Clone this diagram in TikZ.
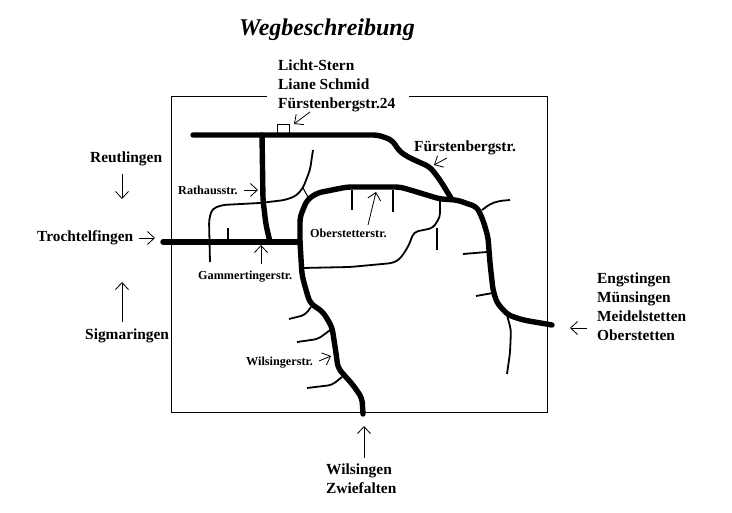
\documentclass[tikz,border=0pt]{standalone}
\usepackage{fontspec}
\setmainfont{Liberation Serif}
\usetikzlibrary{arrows.meta}
\tikzset{
  mainroad/.style={line width=5.4pt,line cap=round,line join=round,rounded corners=5pt},
  sideroad/.style={line width=2.4pt,line cap=butt,line join=round,rounded corners=3pt},
  thinroad/.style={line width=1.8pt,line cap=butt,line join=round,rounded corners=4pt},
  frameline/.style={line width=1pt},
  pointer/.style={line width=.8pt,-{Straight Barb[length=7pt,width=13pt,line width=.8pt]}},
  biglabel/.style={font=\fontsize{15.4}{19}\selectfont\bfseries,inner sep=0pt},
  citylabel/.style={font=\fontsize{15.4}{19}\selectfont\bfseries,inner sep=0pt,align=left},
  smalllabel/.style={font=\fontsize{12.2}{14}\selectfont\bfseries,inner sep=0pt}
}
\begin{document}
\begin{tikzpicture}[x=1pt,y=-1pt]
\useasboundingbox (0,0) rectangle (732,513);
% frame
\draw[frameline] (267,97) -- (171,97) -- (171,413) -- (547,413) -- (547,97) -- (409,97);
% building
\node[draw,line width=.9pt,minimum width=12pt,minimum height=10pt,inner sep=0pt,anchor=south] (house) at (283,135) {};
% side roads
\draw[thinroad] (210,262) -- (209,220) -- (212,209) -- (222,205) -- (260,203) -- (285,200) -- (296,196) -- (303,188) -- (310,170) -- (313,150);
\draw[line width=1pt] (303,188) -- (308,197);
\draw[sideroad] (228,228) -- (228,242);
\draw[sideroad] (352,190) -- (352,210);
\draw[sideroad] (393,190) -- (393,212);
\draw[thinroad] (302,268) -- (350,267) -- (393,263) -- (400,259) -- (408,247) -- (414,232) -- (433,228) -- (440,217) -- (440,200);
\draw[thinroad] (437,228) -- (437,250);
\draw[thinroad] (463,254) -- (487,252);
\draw[thinroad] (482,210) -- (490,204) -- (499,201) -- (510,200);
\draw[thinroad] (476,296) -- (493,293);
\draw[thinroad] (507,315) -- (511,330) -- (510,353) -- (507,374);
\draw[thinroad] (289,319) -- (305,315) -- (311,307);
\draw[thinroad] (297,342) -- (318,339) -- (333,328);
\draw[thinroad] (307,388) -- (332,385) -- (342,377);
% main roads
\draw[mainroad] (193,135) -- (378,135) -- (392,140) -- (400,152) -- (410,158) -- (430,167) -- (440,180) -- (451,198);
\draw[mainroad] (163,242) -- (300,242);
\draw[mainroad] (262,135) -- (263,200) -- (266,225) -- (270,242);
\draw[mainroad] (300,242) -- (300,217) -- (307,200) -- (317,193) -- (347,187) -- (400,187) -- (417,192) -- (440,199) -- (457,200) -- (477,207) -- (483,220) -- (488,237) -- (490,263) -- (493,290) -- (497,303) -- (508,315) -- (523,320) -- (552,325);
\draw[mainroad] (300,242) -- (302,275) -- (306,290) -- (310,303) -- (323,312) -- (332,327) -- (336,353) -- (338,368) -- (345,376) -- (353,385) -- (362,398) -- (363,414);
% labels
\node[inner sep=0pt,font=\fontsize{24}{28}\selectfont\bfseries\itshape] (title) at (327,30) {Wegbeschreibung};
\node[citylabel,anchor=north west] (dest) at (278,60) {Licht-Stern\\Liane Schmid\\Fürstenbergstr.24};
\node[biglabel,anchor=west] (fb) at (414,148) {Fürstenbergstr.};
\node[biglabel,anchor=west] (reut) at (90,159) {Reutlingen};
\node[biglabel,anchor=west] (tro) at (37,238) {Trochtelfingen};
\node[biglabel,anchor=west] (sig) at (85,336) {Sigmaringen};
\node[citylabel,anchor=north west] (eng) at (597,273) {Engstingen\\Münsingen\\Meidelstetten\\Oberstetten};
\node[citylabel,anchor=north west] (wil) at (326,464) {Wilsingen\\Zwiefalten};
\node[smalllabel,anchor=west] (rat) at (178,190) {Rathausstr.};
\node[smalllabel,anchor=west] (gam) at (198,277) {Gammertingerstr.};
\node[smalllabel,anchor=west] (obe) at (310,233) {Oberstetterstr.};
\node[smalllabel,anchor=west] (wis) at (246,363) {Wilsingerstr.};
% pointers
\coordinate (a1) at (310,112); \coordinate (b1) at (294,124);
\coordinate (a2) at (447,158); \coordinate (b2) at (434,165);
\coordinate (a3) at (244,190); \coordinate (b3) at (258,190);
\coordinate (a4) at (261,264); \coordinate (b4) at (261,245);
\coordinate (a5) at (368,225); \coordinate (b5) at (376,192);
\coordinate (a6) at (319,361); \coordinate (b6) at (331,356);
\coordinate (a7) at (122,174); \coordinate (b7) at (122,199);
\coordinate (a8) at (139,238); \coordinate (b8) at (155,238);
\coordinate (a9) at (122,322); \coordinate (b9) at (122,282);
\coordinate (a10) at (587,328); \coordinate (b10) at (570,328);
\coordinate (a11) at (364,458); \coordinate (b11) at (364,426);
\foreach \i in {1,...,11} {\draw[pointer] (a\i) -- (b\i);}
\end{tikzpicture}
\end{document}
